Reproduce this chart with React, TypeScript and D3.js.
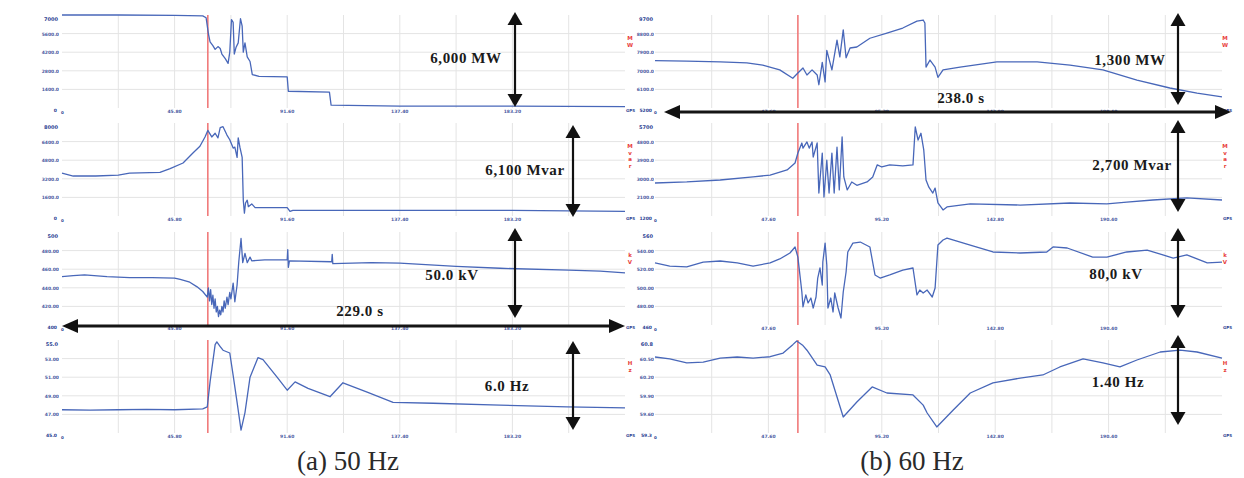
import React from 'react';
import * as d3 from 'd3';

type Pt = [number, number];

// time: % of the recording window, value: % of the channel full scale
const mwA: Pt[] = [[0,100],[10,100],[20,99.5],[25,99],[25.6,97],[26,80],[26.3,71],[26.8,67],[27.2,63],[27.7,66],[28.1,64],[28.4,58],[29,53],[29.5,48],[29.8,60],[30.1,95],[30.4,92],[30.6,58],[30.9,65],[31.3,70],[31.7,96],[32,88],[32.2,60],[32.5,70],[32.9,55],[33.4,50],[33.8,36],[35,34],[40,33.5],[40.2,18],[47.5,17],[47.8,3],[60,2],[80,2],[100,1.5]];
const mvarA: Pt[] = [[0,46],[2,43],[6,43],[10,44],[12,46],[17.4,47],[19.2,51],[21.5,57],[23.3,68],[24.5,75],[25.4,85],[25.9,92],[26.6,85],[27.2,89],[27.7,84],[28.1,95],[28.6,96],[29.3,87],[29.8,82],[30.4,73],[30.7,74],[31.1,63],[31.3,84],[31.6,74],[32,63],[32.2,17],[32.4,3],[32.6,14],[32.9,17],[33.1,10],[33.7,13],[34.3,9],[40,9],[40.5,5],[41,6],[60,6],[80,6],[100,5]];
const kvA: Pt[] = [[0,52],[2,53],[4,54],[8,52],[12,51],[16,51],[20,50.5],[21,49],[22.7,46],[24,41],[25,36],[25.8,30],[26.0,40],[26.2,26],[26.4,38],[26.6,22],[26.8,32],[27.0,18],[27.2,28],[27.4,14],[27.6,20],[27.8,9],[28.0,16],[28.2,11],[28.4,20],[28.6,14],[28.8,26],[29.0,18],[29.3,30],[29.5,22],[29.8,35],[30.0,28],[30.4,45],[30.7,25],[31.1,43],[31.4,68],[31.8,93],[32.1,67],[32.5,77],[32.9,67],[33.4,73],[33.7,69],[36,70],[40,70],[40.1,81],[40.2,62],[40.4,69],[47.9,68],[48,76],[48.1,66],[55,67],[60,66.5],[70,63],[77.8,61],[90,59],[95.6,58],[100,56]];
const hzA: Pt[] = [[0,25],[5,24.5],[10,25],[15,25.5],[20,25],[25,26],[25.8,28],[26.3,55],[27.2,95],[27.5,98],[28.1,93],[28.6,89],[29.8,86],[30.4,62],[31.1,33],[31.8,3],[32.5,22],[33.4,60],[34.8,81],[35.7,79],[38.2,60],[40,46],[41.4,55],[43.7,48],[47.6,39],[49.9,54],[54.2,44],[58.8,33],[65.9,32],[77.8,30],[89.7,28],[100,27]];

const mwB: Pt[] = [[0,51],[5.6,50.5],[11.5,49.5],[16.2,48.5],[19,46],[22,41],[24.3,32],[25.2,37.6],[26.1,43],[26.8,35.5],[27.7,41],[28.6,35.5],[28.9,25],[29.5,49],[30,28],[30.3,62],[31.2,41],[32.1,73],[32.6,55],[33.2,84],[33.7,54],[34.4,64.5],[35.6,65.6],[37.9,75],[40.9,80.6],[43.7,86],[46.2,93.5],[47.3,94.6],[47.6,91.4],[47.8,44],[48.5,51.6],[49.4,44],[49.9,33],[50.8,41],[53.8,44],[60.3,49.5],[67.4,49.5],[73.2,46],[79,41],[85,30],[90.8,21.5],[95.6,16],[100,12]];
const mvarB: Pt[] = [[0,35.5],[5.6,36.6],[11.5,38.7],[17.3,42],[20.3,44],[23.3,49.5],[24.7,57],[25.2,67.7],[25.9,78.5],[26.1,73],[26.8,79.6],[27.2,73],[27.7,79.6],[27.9,63.4],[28.6,78.5],[28.9,24.7],[29.5,67.7],[29.8,20.4],[30.3,60],[30.7,24.7],[31.2,67.7],[31.6,24.7],[32.1,74],[32.5,28],[33,85],[33.3,42],[33.9,28],[34.7,36.6],[35.6,33],[37.4,36.6],[38.4,42],[39.2,55],[40,52.7],[41.4,55],[43.7,53.8],[45.5,55],[45.9,95.7],[46.4,81.7],[46.9,89],[47.4,71],[47.8,38.7],[48.3,31],[49,24.7],[49.4,30],[49.9,14],[50.8,6.5],[51.5,9.7],[55.6,13],[64.4,11.8],[73.2,14],[79.7,13],[83.2,15],[87.8,17.2],[93.8,19.4],[100,17.2]];
const kvB: Pt[] = [[0,66.7],[2.6,63.4],[5.6,62.4],[8.5,67.7],[11.5,68.8],[14.5,66.7],[17.3,63.4],[20.3,66.7],[22,71],[23.8,77.4],[24.7,83.9],[25.2,73],[25.9,35.5],[26.1,19.4],[26.6,32.3],[27,23.7],[27.5,29],[27.9,18.3],[28.4,30.1],[28.7,50.5],[29.1,61.3],[29.5,43],[29.6,67.7],[30,88],[30.3,64.5],[30.5,18.3],[31,29],[31.4,14],[31.7,34.4],[32.3,18.3],[32.8,7.5],[33.2,35.5],[33.7,57],[34,78.5],[34.9,88],[36.2,89.2],[37.9,83.9],[38.8,53.8],[39.7,50.5],[41.4,53.8],[43.7,59],[45.5,61.3],[46.2,32.3],[46.7,37.6],[47.3,34.4],[48,37.6],[48.9,30.1],[49.4,39.8],[49.9,86],[50.8,91.4],[51.5,93.5],[55.6,86],[59.6,78.5],[64.4,77.4],[69.1,78.5],[70.2,83.9],[72.7,82.8],[77.2,73],[79.7,73],[83.2,78.5],[86.8,80.6],[91.4,72],[93.8,75.3],[97.4,66.7],[100,67.7]];
const hzB: Pt[] = [[0,81.7],[2.6,79.6],[5.6,75.3],[8.5,76.3],[11.5,80.6],[14.5,81.7],[17.3,80.6],[20.3,82],[22.6,86],[24.3,95],[25,99],[26.1,94],[26.8,89],[28.6,73],[30,71],[30.9,62.4],[33.2,17.2],[35.6,33.3],[38.3,49.5],[40.9,43],[45.5,40.9],[47.3,30],[48,21.5],[49.7,6.5],[52.6,24.7],[55.6,43],[59.6,53.8],[64.4,59],[68.4,62.4],[71.4,71],[75.5,79.6],[79,75.3],[82,71],[85,78.5],[89.1,87.1],[92.6,89.2],[95.6,87.1],[100,80.6]];

const eventA = 25.9;
const eventB = 25.2;

const units = ['MW', 'Mvar', 'kV', 'Hz'];

const yTopA = ['7000', '8000', '500', '55.0'];
const yGridA = [
  ['5600.0', '4200.0', '2800.0', '1400.0'],
  ['6400.0', '4800.0', '3200.0', '1600.0'],
  ['480.00', '460.00', '440.00', '420.00'],
  ['53.00', '51.00', '49.00', '47.00'],
];
const yBotA = ['0', '0', '400', '45.0'];
const yTopB = ['9700', '5700', '560', '60.8'];
const yGridB = [
  ['8800.0', '7900.0', '7000.0', '6100.0'],
  ['4800.0', '3900.0', '3000.0', '2100.0'],
  ['540.00', '520.00', '500.00', '480.00'],
  ['60.50', '60.20', '59.90', '59.60'],
];
const yBotB = ['5200', '1200', '460', '59.3'];
const xTicksA = ['45.80', '91.60', '137.40', '183.20'];
const xTicksB = ['47.60', '95.20', '142.80', '190.40'];

const spanLabelsA = ['6,000 MW', '6,100 Mvar', '50.0 kV', '6.0 Hz'];
const spanLabelsB = ['1,300 MW', '2,700 Mvar', '80,0 kV', '1.40 Hz'];
const timeLabelA = '229.0 s';
const timeLabelB = '238.0 s';
const captionA = '(a) 50 Hz';
const captionB = '(b) 60 Hz';

// layout
const ROW_TOPS = [15, 123, 232, 340];
const ROW_H = 93;
const TRACE = '#4867b9';
const GRID = '#e4e4e4';
const NAVY = '#2d3f93';
const SERIF = '"Liberation Serif", "Times New Roman", serif';
const TICKFONT = '"DejaVu Sans", sans-serif';

function VArrow({ x, y1, y2 }: { x: number; y1: number; y2: number }) {
  const hl = 13, hw = 7.5;
  return (
    <g>
      <line x1={x} x2={x} y1={y1 + hl - 1} y2={y2 - hl + 1} stroke="#111" strokeWidth={2.2} />
      <path d={`M${x},${y1} L${x - hw},${y1 + hl} L${x + hw},${y1 + hl} Z`} fill="#111" />
      <path d={`M${x},${y2} L${x - hw},${y2 - hl} L${x + hw},${y2 - hl} Z`} fill="#111" />
    </g>
  );
}

function HArrow({ y, x1, x2 }: { y: number; x1: number; x2: number }) {
  const hl = 16, hw = 7;
  return (
    <g>
      <line x1={x1 + hl - 1} x2={x2 - hl + 1} y1={y} y2={y} stroke="#151515" strokeWidth={2.8} />
      <path d={`M${x1},${y} L${x1 + hl},${y - hw} L${x1 + hl},${y + hw} Z`} fill="#111" />
      <path d={`M${x2},${y} L${x2 - hl},${y - hw} L${x2 - hl},${y + hw} Z`} fill="#111" />
    </g>
  );
}

interface PanelCfg {
  x0: number; x1: number; event: number; series: Pt[][];
  yTop: string[]; yGrid: string[][]; yBot: string[]; xTicks: string[];
  unitX: number; labelGap: number; rightTag: string;
}

function Panel({ cfg }: { cfg: PanelCfg }) {
  const x = d3.scaleLinear().domain([0, 100]).range([cfg.x0, cfg.x1]);
  const xDivs = d3.range(0, 101, 10);
  return (
    <g>
      {cfg.series.map((data, r) => {
        const top = ROW_TOPS[r];
        const y = d3.scaleLinear().domain([0, 100]).range([top + ROW_H, top]);
        const line = d3.line<Pt>().x(d => x(d[0])).y(d => y(d[1]));
        const yDivs = d3.range(0, 101, 20);
        return (
          <g key={r}>
            {xDivs.slice(1, -1).map(v => (
              <line key={'vx' + v} x1={x(v)} x2={x(v)} y1={top} y2={top + ROW_H} stroke={GRID} strokeWidth={1} />
            ))}
            {yDivs.slice(1, -1).map(v => (
              <line key={'hy' + v} x1={cfg.x0} x2={cfg.x1} y1={y(v)} y2={y(v)} stroke={GRID} strokeWidth={1} />
            ))}
            <line x1={x(cfg.event)} x2={x(cfg.event)} y1={top} y2={top + ROW_H} stroke="#f07a7a" strokeWidth={1.6} />
            <path d={line(data) || ''} fill="none" stroke={TRACE} strokeWidth={1.3} strokeLinejoin="round" />
            {/* left scale labels */}
            <text x={cfg.x0 - cfg.labelGap - 1} y={top + 6} textAnchor="end" fontFamily={TICKFONT} fontSize={5} fontWeight="bold" fill={NAVY}>{cfg.yTop[r]}</text>
            {cfg.yGrid[r].map((s, i) => (
              <text key={'yl' + i} x={cfg.x0 - cfg.labelGap} y={y(80 - i * 20) + 2} textAnchor="end" fontFamily={TICKFONT} fontSize={4.5} fontWeight="bold" fill={NAVY} opacity={0.85}>{s}</text>
            ))}
            <text x={cfg.x0 - cfg.labelGap - 2} y={top + ROW_H + 4} textAnchor="end" fontFamily={TICKFONT} fontSize={4.5} fontWeight="bold" fill={NAVY}>{cfg.yBot[r]}</text>
            <text x={cfg.x0 - 1} y={top + ROW_H + 6} fontFamily={TICKFONT} fontSize={4} fontWeight="bold" fill={NAVY}>0</text>
            {/* time labels */}
            {cfg.xTicks.map((s, i) => (
              <text key={'xl' + i} x={x(20 + i * 20)} y={top + ROW_H + 5} textAnchor="middle" fontFamily={TICKFONT} fontSize={4.5} fontWeight="bold" fill={NAVY} opacity={0.85}>{s}</text>
            ))}
            <text x={cfg.x1 + 1} y={top + ROW_H + 4} fontFamily={TICKFONT} fontSize={4} fontWeight="bold" fill={NAVY}>{cfg.rightTag}</text>
            {/* red unit tag, stacked */}
            <text x={cfg.unitX} y={top + 25} textAnchor="middle" fontFamily={TICKFONT} fontSize={5.5} fontWeight="bold" fill="#e8403a">
              {units[r].split('').map((c, i) => (
                <tspan key={i} x={cfg.unitX} dy={i === 0 ? 0 : 6.5}>{c}</tspan>
              ))}
            </text>
          </g>
        );
      })}
    </g>
  );
}

export default function App() {
  const panelA: PanelCfg = { x0: 62, x1: 625, event: eventA, series: [mwA, mvarA, kvA, hzA], yTop: yTopA, yGrid: yGridA, yBot: yBotA, xTicks: xTicksA, unitX: 630, labelGap: 3, rightTag: 'GPS' };
  const panelB: PanelCfg = { x0: 655, x1: 1222, event: eventB, series: [mwB, mvarB, kvB, hzB], yTop: yTopB, yGrid: yGridB, yBot: yBotB, xTicks: xTicksB, unitX: 1225, labelGap: 1, rightTag: 'GPS' };

  const lbl = (s: string, cx: number, by: number) => (
    <text x={cx} y={by} textAnchor="middle" fontFamily={SERIF} fontSize={15} fontWeight="bold" letterSpacing={0.6} fill="#1a1a1a">{s}</text>
  );

  return (
    <svg width={1244} height={478} viewBox="0 0 1244 478" style={{ position: 'absolute', left: 0, top: 0, background: '#fff' }}>
      <rect x={0} y={0} width={1244} height={478} fill="#fff" />
      <Panel cfg={panelA} />
      <Panel cfg={panelB} />

      {/* panel (a) annotations */}
      <VArrow x={515} y1={12} y2={107} />
      <VArrow x={573} y1={125} y2={217} />
      <VArrow x={515} y1={228} y2={318} />
      <VArrow x={573} y1={341} y2={430} />
      <HArrow y={326} x1={62} x2={625} />
      {lbl(spanLabelsA[0], 466, 63)}
      {lbl(spanLabelsA[1], 525, 175)}
      {lbl(spanLabelsA[2], 452, 280)}
      {lbl(timeLabelA, 360, 316)}
      {lbl(spanLabelsA[3], 507, 391)}

      {/* panel (b) annotations */}
      <VArrow x={1178} y1={13} y2={105} />
      <VArrow x={1178} y1={120} y2={212} />
      <VArrow x={1178} y1={228} y2={318} />
      <VArrow x={1178} y1={335} y2={425} />
      <HArrow y={112} x1={664} x2={1231} />
      {lbl(spanLabelsB[0], 1130, 65)}
      {lbl(spanLabelsB[1], 1132, 170)}
      {lbl(spanLabelsB[2], 1116, 279)}
      {lbl(timeLabelB, 961, 103)}
      {lbl(spanLabelsB[3], 1118, 387)}

      <text x={348} y={470} textAnchor="middle" fontFamily={SERIF} fontSize={27} fill="#2a2a2a">{captionA}</text>
      <text x={912} y={470} textAnchor="middle" fontFamily={SERIF} fontSize={27} fill="#2a2a2a">{captionB}</text>
    </svg>
  );
}
